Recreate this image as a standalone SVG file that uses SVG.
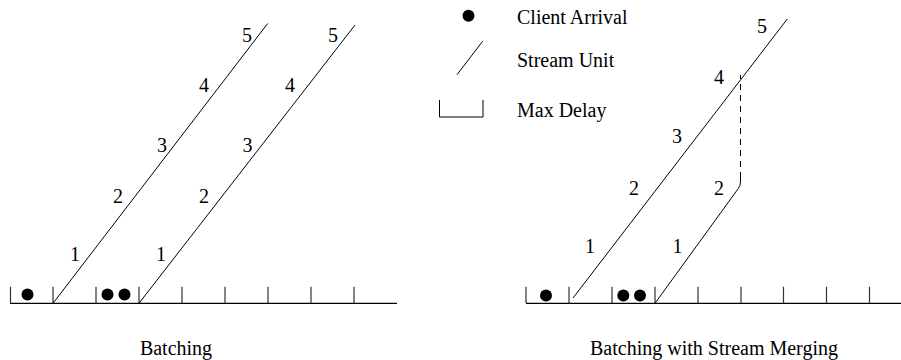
<svg xmlns="http://www.w3.org/2000/svg" width="901" height="360" viewBox="0 0 901 360">
<style>
text{font-family:"Liberation Serif","Times New Roman",serif;font-size:20px;fill:#000}
.lbl{text-anchor:middle}
.ln{stroke:#000;stroke-width:1;fill:none}
.ax{stroke:#000;stroke-width:1.3;fill:none}
.tk{stroke:#333;stroke-width:1.2;fill:none}
.dash{stroke:#000;stroke-width:1;fill:none;stroke-dasharray:6 5}
.dot{fill:#000}
</style>
<rect width="901" height="360" fill="#fff"/>

<g id="legend">
  <circle class="dot" cx="468.5" cy="15.7" r="6"/>
  <text x="517" y="23.5">Client Arrival</text>
  <line class="ln" x1="457" y1="74.7" x2="482.7" y2="41.2"/>
  <text x="517" y="67">Stream Unit</text>
  <path class="ln" d="M439.5,100 V117 H483 V100"/>
  <text x="517" y="117">Max Delay</text>
</g>

<g id="batching-axis">
  <line class="ax" x1="10" y1="303.3" x2="397" y2="303.3"/>
  <path class="tk" d="M10.5,286.7V303 M53,286.7V303 M96,286.7V303 M139,286.7V303 M182,286.7V303 M225,286.7V303 M268,286.7V303 M311,286.7V303 M354,286.7V303"/>
  <circle class="dot" cx="27.5" cy="294.5" r="6"/>
  <circle class="dot" cx="107.5" cy="294.5" r="6"/>
  <circle class="dot" cx="124.5" cy="294.5" r="6"/>
</g>

<g id="merging-axis">
  <line class="ax" x1="526" y1="303.3" x2="901" y2="303.3"/>
  <path class="tk" d="M526,286.7V303 M569,286.7V303 M612,286.7V303 M655,286.7V303 M698,286.7V303 M741,286.7V303 M783.5,286.7V303 M826.5,286.7V303 M869.5,286.7V303"/>
  <circle class="dot" cx="546" cy="295.5" r="6"/>
  <circle class="dot" cx="623.3" cy="295.5" r="6"/>
  <circle class="dot" cx="640" cy="295.5" r="6"/>
</g>

<g id="connectors">
  <line class="ln" x1="53" y1="303.3" x2="267.7" y2="23.5"/>
  <line class="ln" x1="139" y1="303.3" x2="355" y2="25"/>
  <line class="ln" x1="573" y1="298" x2="787.3" y2="19"/>
  <path class="ln" d="M655,303.3 L738.3,188.5 Q740.5,185.5 740.5,182 V178"/>
  <line class="dash" x1="740.5" y1="178" x2="740.5" y2="75"/>
</g>

<g id="batching-labels">
  <text class="lbl" x="75" y="261">1</text>
  <text class="lbl" x="118" y="202.7">2</text>
  <text class="lbl" x="162" y="152">3</text>
  <text class="lbl" x="204" y="92">4</text>
  <text class="lbl" x="247" y="41.7">5</text>
  <text class="lbl" x="161" y="261">1</text>
  <text class="lbl" x="204" y="202.7">2</text>
  <text class="lbl" x="247.5" y="152">3</text>
  <text class="lbl" x="290" y="92">4</text>
  <text class="lbl" x="333" y="41.7">5</text>
</g>

<g id="merging-labels">
  <text class="lbl" x="590" y="253">1</text>
  <text class="lbl" x="634" y="195">2</text>
  <text class="lbl" x="677" y="143.3">3</text>
  <text class="lbl" x="719" y="84">4</text>
  <text class="lbl" x="762" y="33.3">5</text>
  <text class="lbl" x="677.5" y="253">1</text>
  <text class="lbl" x="719" y="195">2</text>
</g>

<g id="captions">
  <text class="lbl" x="176" y="355">Batching</text>
  <text class="lbl" x="714" y="355">Batching with Stream Merging</text>
</g>
</svg>
